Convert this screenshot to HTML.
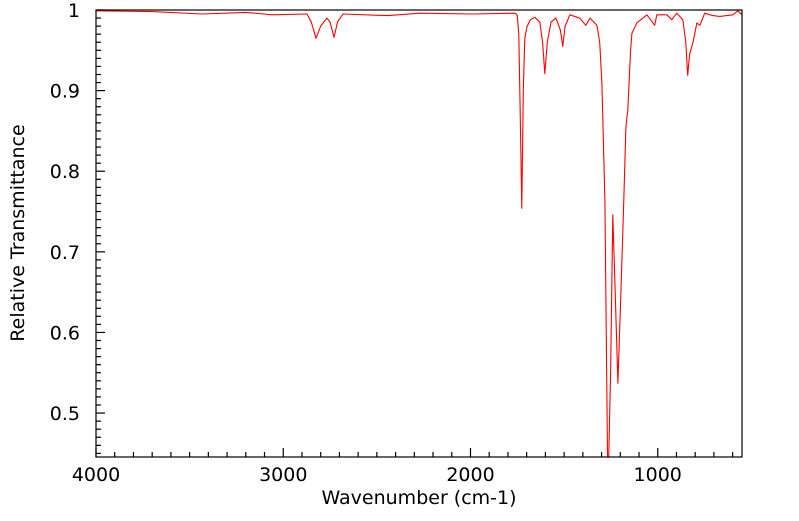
<!DOCTYPE html>
<html><head><meta charset="utf-8"><style>
body{margin:0;background:#fff;}
svg text{font-family:"DejaVu Sans","Liberation Sans",sans-serif;fill:#000;}
</style></head><body>
<svg id="chart" width="799" height="516" xmlns="http://www.w3.org/2000/svg">
<g id="axes"></g>
<path id="series" fill="none" stroke="#ff0000" stroke-width="1.1" stroke-linejoin="round" clip-path="url(#clip)"/>
<defs><clipPath id="clip"><rect x="96" y="10" width="646" height="447"/></clipPath></defs>
<rect x="96" y="10" width="646" height="447" fill="none" stroke="#000" stroke-width="1.2"/>
<text x="419" y="504" font-size="19" text-anchor="middle">Wavenumber (cm-1)</text>
<text x="24" y="233" font-size="19" text-anchor="middle" transform="rotate(-90 24 233)">Relative Transmittance</text>
</svg>
<script>
const wavenumbers=[4000,3700,3434,3200,3055,2873,2850,2825,2800,2767,2750,2729,2710,2681,2441,2270,1987,1760,1750,1742,1735,1726,1718,1710,1699,1680,1656,1630,1615,1603,1590,1570,1544,1520,1507,1495,1469,1416,1384,1362,1325,1310,1298,1282,1266,1252,1240,1227,1213,1197,1181,1170,1160,1145,1138,1112,1058,1016,1005,951,925,898,866,850,840,830,813,791,775,749,706,669,599,572,550];
const transmittance=[0.999,0.998,0.995,0.997,0.994,0.995,0.985,0.965,0.98,0.99,0.985,0.966,0.985,0.995,0.993,0.996,0.995,0.996,0.993,0.97,0.88,0.754,0.9,0.965,0.979,0.988,0.991,0.985,0.96,0.921,0.96,0.985,0.99,0.975,0.955,0.98,0.994,0.99,0.981,0.99,0.981,0.96,0.909,0.764,0.40,0.55,0.746,0.65,0.537,0.649,0.764,0.855,0.876,0.95,0.971,0.984,0.994,0.981,0.994,0.994,0.988,0.996,0.988,0.96,0.919,0.945,0.959,0.984,0.981,0.996,0.993,0.992,0.994,0.999,0.994];
const xTicks=[4000,3000,2000,1000];
const yTicks=[0.5,0.6,0.7,0.8,0.9,1];
const yTickLabels=["0.5","0.6","0.7","0.8","0.9","1"];
const X0=96,X1=742,Y0=10,Y1=457;
const xMax=4000,xMin=550,yMax=1,yMin=0.4455;
function xs(v){return X0+(xMax-v)/(xMax-xMin)*(X1-X0);}
function ys(v){return Y0+(yMax-v)/(yMax-yMin)*(Y1-Y0);}
const NS="http://www.w3.org/2000/svg";
const ax=document.getElementById('axes');
function line(x1,y1,x2,y2,name){const l=document.createElementNS(NS,'line');
l.setAttribute('x1',x1);l.setAttribute('y1',y1);l.setAttribute('x2',x2);l.setAttribute('y2',y2);
l.setAttribute('stroke','#000');l.setAttribute('stroke-width','1.2');


ax.appendChild(l);}
function text(x,y,s,anchor,name){const t=document.createElementNS(NS,'text');
t.setAttribute('x',x);t.setAttribute('y',y);t.setAttribute('font-size','19');t.setAttribute('text-anchor',anchor);t.textContent=s;


ax.appendChild(t);}
for(let v=4000;v>=600;v-=100){const x=xs(v);const major=v%1000===0;line(x,Y1,x,Y1-(major?9:5),'x-tick');}
xTicks.forEach(v=>text(xs(v),Y1+24,String(v),'middle','x-tick-label'));
for(let k=45;k<=100;k++){const v=k/100;const y=ys(v);if(y>Y1+0.5)continue;const major=k%10===0;line(X0,y,X0+(major?9:5),y,'y-tick');}
yTicks.forEach((v,i)=>text(X0-16,ys(v)+7,yTickLabels[i],'end','y-tick-label'));
let d='';
wavenumbers.forEach((w,i)=>{d+=(i?'L':'M')+xs(w).toFixed(1)+','+ys(transmittance[i]).toFixed(1);});
document.getElementById('series').setAttribute('d',d);
</script>
</body></html>
